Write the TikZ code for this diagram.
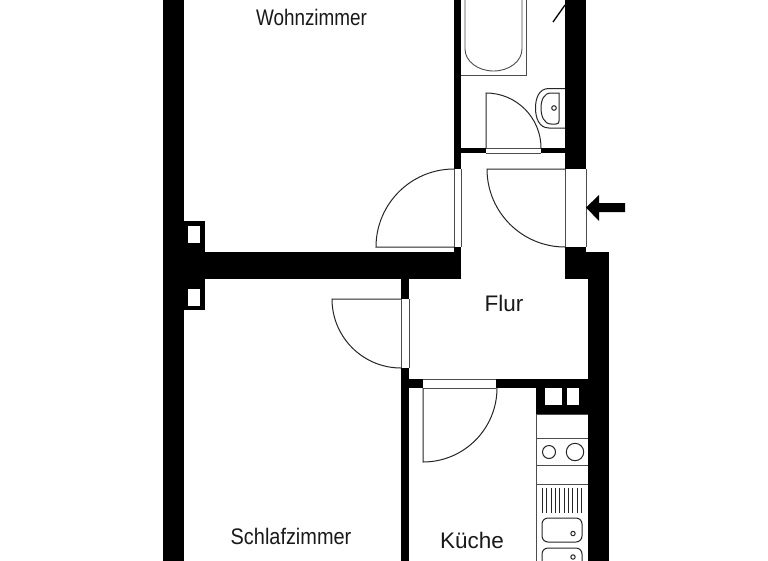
\documentclass[tikz,border=0pt]{standalone}
\usepackage{fontspec}
\usepackage{graphicx}
\setmainfont{Liberation Sans}
\tikzset{
  wall/.style={fill=black,draw=none},
  thin line/.style={draw=black!70,line width=0.9pt},
  fine line/.style={draw=black!85,line width=1pt},
  label text/.style={inner sep=0pt,text=black!90},
  room condensed/.style={label text,font=\fontsize{22.5}{24}\selectfont},
  room plain/.style={label text,font=\fontsize{22.5}{24}\selectfont},
}
\begin{document}
\begin{tikzpicture}[x=1pt,y=-1pt]
\useasboundingbox (0,0) rectangle (768,560);
\fill[white] (0,0) rectangle (768,560);
\begin{scope}
\clip (0,0) rectangle (768,560);
% walls
\fill[wall] (163,-5) rectangle (184,565);
\fill[wall] (184,221) rectangle (205,310);
\fill[white] (188,226) rectangle (200,243);
\fill[white] (188,289) rectangle (200,306);
\fill[wall] (205,252) rectangle (461,279);
\fill[wall] (454,-5) rectangle (461,169);
\fill[wall] (454,247) rectangle (461,252);
\fill[wall] (461,148) rectangle (486,153);
\fill[wall] (541,148) rectangle (566,153);
\fill[wall] (565,-5) rectangle (586,169);
\fill[wall] (565,247) rectangle (586,279);
\fill[wall] (586,252) rectangle (609,279);
\fill[wall] (588,252) rectangle (609,565);
\fill[wall] (401,279) rectangle (409,299);
\fill[wall] (401,368) rectangle (409,565);
\fill[wall] (409,379) rectangle (423,388);
\fill[wall] (496,379) rectangle (588,388);
\fill[wall] (536,388) rectangle (588,414);
\fill[white] (545,388) rectangle (562,405);
\fill[white] (567,388) rectangle (579,405);
% doors
\draw[thin line] (454,169) -- (454,247) (461,169) -- (461,247);
\draw[fine line] (454,247) -- (376,247) arc[start angle=180,end angle=270,radius=78];
\draw[thin line] (565,169) -- (565,247) (586,169) -- (586,247);
\draw[fine line] (565,169) -- (487,169) arc[start angle=180,end angle=90,radius=78];
\draw[thin line] (486,148) -- (541,148) (486,153) -- (541,153);
\draw[fine line] (486,148) -- (486,93) arc[start angle=270,end angle=360,radius=55];
\draw[thin line] (401,299) -- (401,368) (409,299) -- (409,368);
\draw[fine line] (401,299) -- (332,299) arc[start angle=180,end angle=90,radius=69];
\draw[thin line] (423,379) -- (496,379) (423,388) -- (496,388);
\draw[fine line] (423,388) -- (423,462) arc[start angle=90,end angle=0,radius=74];
% entrance arrow
\fill[wall] (586,207.5) -- (599,195) -- (599,203) -- (625,203) -- (625,212) -- (599,212) -- (599,221) -- cycle;
% bathtub
\draw[thin line] (526,-5) -- (526,75) -- (461,75);
\draw[thin line] (465,-5) -- (465,49) arc[start angle=180,end angle=360,x radius=28.5,y radius=-22] -- (522,-5);
% sink in bath
\draw[fine line] (565,88.5) -- (549,88.5) .. controls (539,88.5) and (535.5,98) .. (535.5,108) .. controls (535.5,118) and (539,128) .. (549,128) -- (565,128);
\draw[fine line] (559,93) -- (551,93) .. controls (544,93) and (541,100) .. (541,108) .. controls (541,116) and (544,124) .. (551,124) -- (556,124) .. controls (558,124) and (559,123) .. (559,121) -- cycle;
\draw[fine line] (554,108) circle[radius=2.3];
% bath door leaf
\draw[black,line width=1.3pt] (553,22) -- (565,5);
% kitchen
\draw[thin line] (536,414) -- (536,565);
\draw[thin line] (536,414) -- (588,414) (536,438) -- (588,438) (536,465) -- (588,465) (536,484) -- (588,484);
\draw[fine line] (549,452) circle[radius=6.5];
\draw[fine line] (575,452) circle[radius=8.7];
\foreach \xx in {0,...,9}
  \draw[fine line] ({542.5+\xx*4.35},488) -- ({542.5+\xx*4.35},513);
\draw[fine line,rounded corners=6pt] (542,518) rectangle (582,542);
\draw[fine line] (573,533.5) circle[radius=2.2];
\draw[fine line,rounded corners=6pt] (542,548) rectangle (582,575);
\draw[fine line] (573,557) circle[radius=2.2];
\end{scope}
% labels
\node[room condensed] (wz) at (311.5,17.5) {\scalebox{.84}[1]{Wohnzimmer}};
\node[room plain] (fl) at (504,303.5) {Flur};
\node[room condensed] (sz) at (291,536) {\scalebox{.885}[1]{Schlafzimmer}};
\node[room plain] (ku) at (472,540) {Küche};
\end{tikzpicture}
\end{document}
